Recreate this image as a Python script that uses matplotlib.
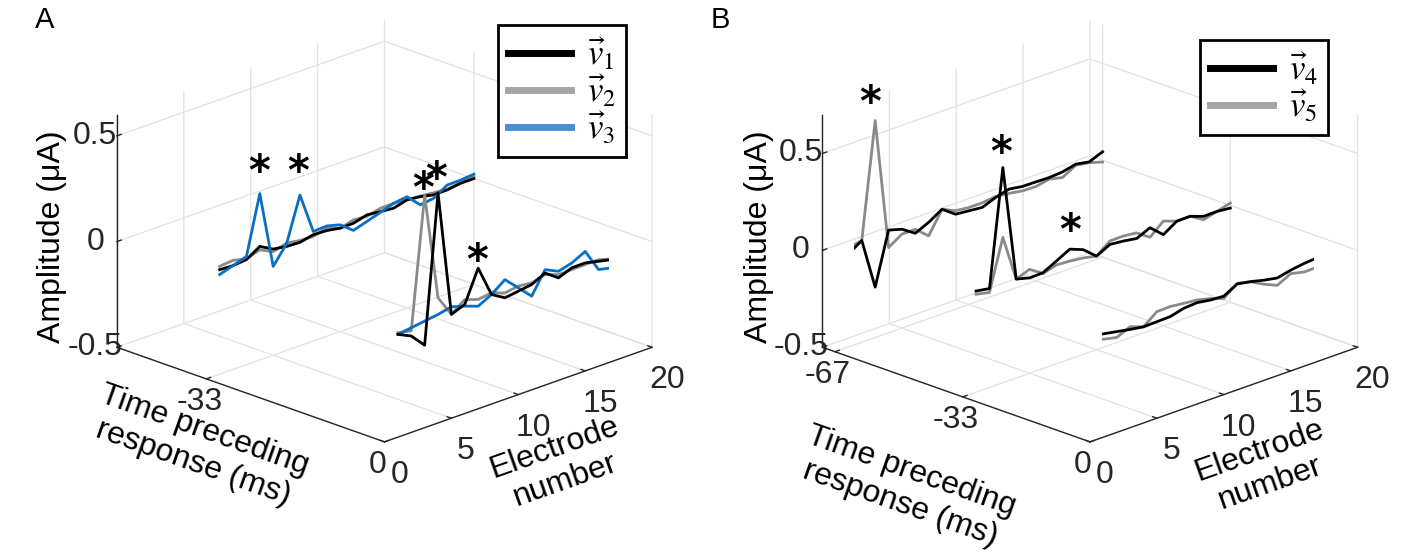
import numpy as np
import matplotlib
matplotlib.use('Agg')
import matplotlib.pyplot as plt
from matplotlib import font_manager
from matplotlib.lines import Line2D

electrodes = np.arange(1, 21)

# ---- panel A: amplitude (uA) per electrode, one list per time slice
times_a = [-33.3, 0.0]
a_v1_m33 = [-0.006, -0.009, -0.003, 0.037, 0.002, -0.008, -0.011, 0.003, 0.0, -0.011,
            -0.010, 0.007, 0.0, -0.006, 0.011, 0.004, -0.010, -0.009, 0.0, 0.0]
a_v2_m33 = [0.010, 0.016, 0.0, 0.021, -0.010, 0.008, -0.002, -0.005, 0.012, -0.011,
            0.006, 0.0, 0.016, 0.017, 0.011, 0.007, 0.0, -0.006, 0.003, 0.009]
a_v3_m33 = [-0.029, -0.009, 0.012, 0.287, -0.080, 0.005, 0.213, 0.018, 0.022, 0.005,
            -0.044, -0.024, -0.004, 0.017, 0.026, -0.035, -0.026, 0.014, 0.015, 0.021]
a_v1_0 = [-0.014, -0.044, -0.110, 0.588, -0.009, 0.016, 0.165, 0.018, -0.020, -0.011,
          -0.002, 0.030, -0.015, 0.010, 0.011, -0.004, -0.018, 0.0, -0.016, -0.038]
a_v2_0 = [-0.006, -0.020, 0.599, 0.092, -0.009, 0.039, 0.017, 0.026, 0.003, 0.013,
          0.006, 0.023, 0.0, 0.002, 0.003, 0.004, -0.015, 0.0, -0.008, -0.023]
a_v3_0 = [-0.014, -0.005, 0.004, 0.013, 0.027, 0.008, -0.015, 0.018, 0.066, 0.005,
          -0.057, 0.046, 0.016, 0.033, 0.065, -0.043, -0.057, -0.017, 0.0, -0.010]
# asterisks (time, electrode, amplitude)
star_t_a = [-33.3, -33.3, 0.0, 0.0, 0.0]
star_e_a = [3.96, 6.85, 2.87, 3.85, 6.94]
star_z_a = [0.385, 0.322, 0.629, 0.654, 0.194]

# ---- panel B
times_b = [-66.7, -33.3, 0.0]
b_v4_m67 = [-0.020, 0.025, -0.240, 0.030, 0.010, -0.035, -0.003, 0.040, -0.010, -0.017,
            -0.024, 0.003, 0.022, 0.011, 0.010, 0.008, 0.013, 0.029, 0.016, 0.044]
b_v5_m67 = [0.010, 0.025, 0.620, -0.060, -0.015, -0.015, -0.073, 0.040, 0.008, 0.0,
            0.0, 0.008, 0.0, -0.012, -0.014, 0.0, -0.016, 0.023, 0.012, -0.009]
b_v4_m33 = [0.022, 0.010, 0.610, 0.010, -0.008, -0.006, 0.030, 0.067, 0.040, -0.018,
            0.018, 0.011, 0.0, 0.031, -0.029, 0.016, 0.017, -0.008, -0.007, -0.014]
b_v5_m33 = [0.005, -0.010, 0.250, 0.010, 0.036, -0.010, 0.010, 0.005, -0.003, -0.018,
            0.036, 0.037, 0.029, -0.018, 0.041, 0.016, 0.017, -0.025, -0.007, 0.012]
b_v4_0 = [0.033, 0.020, 0.007, -0.004, -0.002, 0.0, 0.018, 0.023, 0.012, 0.008,
          0.046, 0.034, 0.017, 0.004, 0.020, 0.030, 0.036, 0.006, 0.016, -0.004]
b_v5_0 = [0.005, -0.010, 0.021, -0.004, 0.050, 0.052, 0.044, 0.037, 0.020, -0.004,
          0.050, 0.033, -0.004, -0.034, 0.002, -0.014, -0.013, -0.041, -0.020, -0.032]
star_t_b = [-66.7, -33.3, -33.3]
star_e_b = [2.6, 2.85, 7.99]
star_z_b = [0.714, 0.685, 0.155]

electrode_ticks = [0, 5, 10, 15, 20]
amp_ticks = [-0.5, 0, 0.5]
amp_labels = ['-0.5', '0', '0.5']

BLACK = '#000000'
GRAY = '#8a8a8a'
BLUE = '#0a6fc2'

names = {f.name for f in font_manager.fontManager.ttflist}
tick_font = 'Liberation Sans Narrow' if 'Liberation Sans Narrow' in names else 'Liberation Sans'

plt.rcParams['font.family'] = [tick_font, 'DejaVu Sans']
plt.rcParams['mathtext.fontset'] = 'stix'
plt.rcParams['grid.color'] = '#e2e2e2'
plt.rcParams['grid.linewidth'] = 0.9
plt.rcParams['axes3d.automargin'] = False
for k in ('xtick', 'ytick'):
    plt.rcParams[k + '.major.width'] = 1.0
    plt.rcParams[k + '.color'] = '#262626'

W, H = 1421, 552
fig = plt.figure(figsize=(W / 100, H / 100), dpi=100)
SIDE = 460.5
ZOOM = 1.244


def add_panel(cx, cy):
    left = cx - 0.5135 * SIDE
    bottom = (H - cy) - 0.5135 * SIDE
    ax = fig.add_axes([left / W, bottom / H, SIDE / W, SIDE / H], projection='3d')
    ax.set_proj_type('ortho')
    ax.view_init(elev=20.7, azim=-45)
    ax.set_box_aspect((1, 1, 0.657), zoom=ZOOM)
    ax.computed_zorder = False
    ax.patch.set_alpha(0)
    for axis in (ax.xaxis, ax.yaxis, ax.zaxis):
        axis.set_pane_color((1, 1, 1, 0))
        axis.pane.set_edgecolor('none')
        axis.line.set_color('#262626')
        axis.line.set_linewidth(1.0)
        axis._axinfo['tick']['inward_factor'] = 0.0
        axis._axinfo['tick']['outward_factor'] = 0.2
        axis.offsetText.set_visible(False)
    ax.zaxis.set_ticks_position('lower')
    return ax


def finish(ax, xlim, zlim, xticks, xlabels):
    ax.set_xlim(xlim)
    ax.set_ylim(0, 20)
    ax.set_zlim(zlim)
    ax.set_xticks(xticks)
    ax.set_xticklabels(xlabels)
    ax.set_yticks(electrode_ticks)
    ax.set_yticklabels([str(v) for v in electrode_ticks])
    ax.set_zticks(amp_ticks)
    ax.set_zticklabels(amp_labels)
    ax.tick_params(labelsize=23, colors='#262626')
    ax.xaxis.set_tick_params(pad=-3.5)
    ax.yaxis.set_tick_params(pad=1.5)
    ax.zaxis.set_tick_params(pad=-1)
    for tk in ax.zaxis.get_major_ticks():
        for lbl in (tk.label1, tk.label2):
            lbl.set_verticalalignment('center')


# ---------------- panel A
axa = add_panel(384.5, 231)
for t, vals, col, zo in [(times_a[0], a_v2_m33, GRAY, 2), (times_a[0], a_v1_m33, BLACK, 3),
                         (times_a[0], a_v3_m33, BLUE, 4), (times_a[1], a_v2_0, GRAY, 5),
                         (times_a[1], a_v3_0, BLUE, 6), (times_a[1], a_v1_0, BLACK, 7)]:
    axa.plot(np.full(len(electrodes), t), electrodes, vals, color=col, lw=2.0, zorder=zo)
for t, e, z in zip(star_t_a, star_e_a, star_z_a):
    axa.text(t, e, z, '*', ha='center', va='center', fontsize=30, color='k',
             family='DejaVu Sans', weight='bold', zorder=10)
finish(axa, (-50, 0), (-0.5, 0.6), [-33.3, 0], ['-33', '0'])

leg_kw = dict(loc='upper left', bbox_transform=fig.transFigure, fontsize=25, fancybox=False,
              edgecolor='k', framealpha=1, handlelength=1.8, handletextpad=0.45,
              labelspacing=0.02, borderpad=0.3, borderaxespad=0)
leg = axa.legend([Line2D([], [], color='k', lw=5), Line2D([], [], color='#a6a6a6', lw=5),
                  Line2D([], [], color='#4f8ad6', lw=5)],
                 [r'$\vec{v}_1$', r'$\vec{v}_2$', r'$\vec{v}_3$'],
                 bbox_to_anchor=(498 / W, 1 - 25 / H), **leg_kw)
leg.get_frame().set_linewidth(2.0)

# ---------------- panel B
axb = add_panel(1090, 231)
for t, vals, col, zo in [(times_b[0], b_v5_m67, GRAY, 2), (times_b[0], b_v4_m67, BLACK, 3),
                         (times_b[1], b_v5_m33, GRAY, 4), (times_b[1], b_v4_m33, BLACK, 5),
                         (times_b[2], b_v5_0, GRAY, 6), (times_b[2], b_v4_0, BLACK, 7)]:
    axb.plot(np.full(len(electrodes), t), electrodes, vals, color=col, lw=2.0, zorder=zo)
for t, e, z in zip(star_t_b, star_e_b, star_z_b):
    axb.text(t, e, z, '*', ha='center', va='center', fontsize=30, color='k',
             family='DejaVu Sans', weight='bold', zorder=10)
finish(axb, (-70, 0), (-0.5, 0.7), [-66.7, -33.3, 0], ['-67', '-33', '0'])

leg = axb.legend([Line2D([], [], color='k', lw=5), Line2D([], [], color='#a6a6a6', lw=5)],
                 [r'$\vec{v}_4$', r'$\vec{v}_5$'],
                 bbox_to_anchor=(1200 / W, 1 - 40 / H), **leg_kw)
leg.get_frame().set_linewidth(2.0)

# ---------------- axis labels and panel letters
lab = dict(family=['Liberation Sans', 'DejaVu Sans'], fontsize=23, color='k',
           ha='center', va='center', rotation_mode='anchor', multialignment='center')
for amp_x, tx, ty, ex, ey in [(52, 199, 447, 560, 464), (759, 906, 488, 1265, 467)]:
    fig.text(amp_x / W, 1 - 237 / H, 'Amplitude (\u03bcA)', rotation=90, **lab)
    fig.text(tx / W, 1 - ty / H, 'Time preceding\nresponse (ms)', rotation=-19.5, **lab)
    fig.text(ex / W, 1 - ey / H, 'Electrode\nnumber', rotation=19.5, **lab)
fig.text(45 / W, 1 - 20 / H, 'A', fontsize=21, ha='center', va='center',
         family=['Liberation Sans', 'DejaVu Sans'])
fig.text(720 / W, 1 - 20 / H, 'B', fontsize=21, ha='center', va='center',
         family=['Liberation Sans', 'DejaVu Sans'])

fig.savefig('out.png', dpi=100)
